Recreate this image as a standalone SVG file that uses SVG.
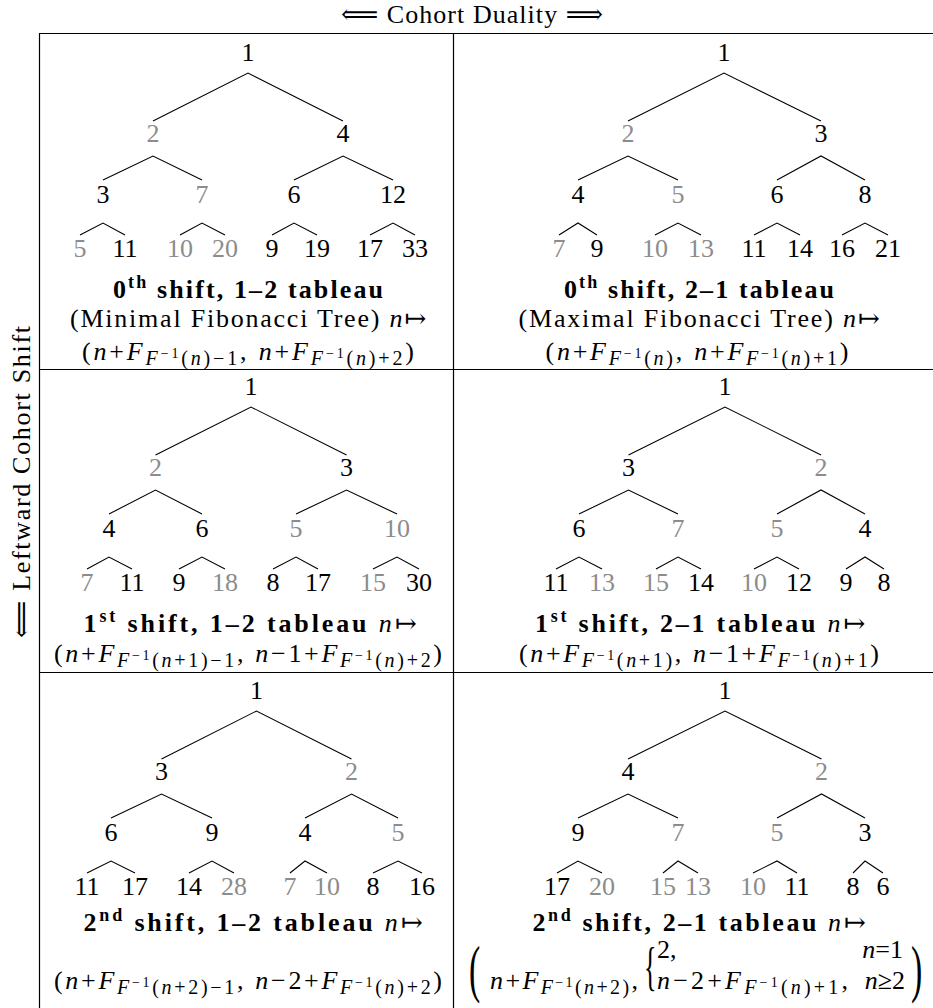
<svg xmlns="http://www.w3.org/2000/svg" width="933" height="1008" viewBox="0 0 933 1008">
<style>
text { font-family: "Liberation Serif","DejaVu Serif","DejaVu Sans",serif; font-size: 26px; fill: #000; }
.c { text-anchor: middle; }
.g { fill: #8c8c8c; }
.b { font-weight: bold; font-size: 26px; }
.i { font-style: italic; }
.n { font-weight: normal; }
.s { font-size: 20px; }
.ss { font-size: 14px; }
.sp { font-size: 18px; }
.e { fill: none; stroke: #000; stroke-width: 1.1; }
.f { fill: none; stroke: #000; stroke-width: 1.2; }
</style>
<g id="frame">
<path class="f" d="M39 33.5 H933 M39 369.5 H933 M39 672.5 H933 M39.5 33 V1008 M453.5 33 V1008"/>
</g>
<g id="labels">
<text class="c" x="472" y="23" textLength="262" lengthAdjust="spacing">⟸ Cohort Duality ⟹</text>
<text class="c" transform="translate(30,482) rotate(-90)" textLength="312" lengthAdjust="spacing">⟸ Leftward Cohort Shift</text>
</g>
<g id="connectors">
<path class="e" d="M153 121 L248 73 L343 121 M103 180 L153 156 L202 180 M294 180 L343 156 L393 180 M80 235 L103 223 L125 235 M180 235 L202 223 L225 235 M272 235 L294 223 L317 235 M370 235 L393 223 L415 235"/>
<path class="e" d="M628 121 L724 73 L821 121 M578 180 L628 156 L678 180 M777 180 L821 156 L865 180 M559 235 L578 223 L597 235 M655 235 L678 223 L701 235 M754 235 L777 223 L800 235 M842 235 L865 223 L888 235"/>
<path class="e" d="M155.5 455 L251 407 L346.5 455 M109 514 L155.5 490 L202 514 M296 514 L346.5 490 L397 514 M87 569 L109 557 L132 569 M179 569 L202 557 L225 569 M273 569 L296 557 L318 569 M373 569 L397 557 L419 569"/>
<path class="e" d="M628.5 455 L725 407 L821 455 M579 514 L628.5 490 L678 514 M777 514 L821 490 L865 514 M556 569 L579 557 L602 569 M656 569 L678 557 L701 569 M754 569 L777 557 L799 569 M846 569 L865 557 L884 569"/>
<path class="e" d="M161.5 759 L256.5 711 L351.5 759 M111 818 L161.5 794 L212 818 M305 818 L351.5 794 L398 818 M87 873 L111 861 L135 873 M189 873 L212 861 L234 873 M290 873 L305 861 L327 873 M373 873 L398 861 L422 873"/>
<path class="e" d="M628 759 L725 711 L821.5 759 M578 818 L628 794 L678 818 M777 818 L821.5 794 L865 818 M557 873 L578 861 L602 873 M663 873 L678 861 L698 873 M753 873 L777 861 L797 873 M853 873 L865 861 L883 873"/>
</g>
<g id="r1l-1"><text class="c" x="248" y="61">1</text></g>
<g id="r1l-2"><text class="c g" x="153" y="142">2</text></g>
<g id="r1l-4"><text class="c" x="343" y="142">4</text></g>
<g id="r1l-3"><text class="c" x="103" y="203">3</text></g>
<g id="r1l-7"><text class="c g" x="202" y="203">7</text></g>
<g id="r1l-6"><text class="c" x="294" y="203">6</text></g>
<g id="r1l-12"><text class="c" x="393" y="203">12</text></g>
<g id="r1l-5"><text class="c g" x="80" y="257">5</text></g>
<g id="r1l-11"><text class="c" x="125" y="257">11</text></g>
<g id="r1l-10"><text class="c g" x="180" y="257">10</text></g>
<g id="r1l-20"><text class="c g" x="225" y="257">20</text></g>
<g id="r1l-9"><text class="c" x="272" y="257">9</text></g>
<g id="r1l-19"><text class="c" x="317" y="257">19</text></g>
<g id="r1l-17"><text class="c" x="370" y="257">17</text></g>
<g id="r1l-33"><text class="c" x="415" y="257">33</text></g>
<g id="r1l-caption">
<text class="c b" x="248" y="298" textLength="270" lengthAdjust="spacing">0<tspan class="sp" dy="-10">th</tspan><tspan dy="10"> shift, 1–2 tableau</tspan></text>
<text class="c" x="248" y="327" textLength="356" lengthAdjust="spacing">(Minimal Fibonacci Tree) <tspan class="i">n</tspan>↦</text>
<text class="c" x="248" y="360" textLength="332" lengthAdjust="spacing">(<tspan class="i">n</tspan>+<tspan class="i">F</tspan><tspan class="i s" dy="5">F</tspan><tspan class="ss" dy="-7">−1</tspan><tspan class="s" dy="7">(<tspan class="i">n</tspan>)−1</tspan><tspan dy="-5">, <tspan class="i">n</tspan>+<tspan class="i">F</tspan></tspan><tspan class="i s" dy="5">F</tspan><tspan class="ss" dy="-7">−1</tspan><tspan class="s" dy="7">(<tspan class="i">n</tspan>)+2</tspan><tspan dy="-5">)</tspan></text>
</g>
<g id="r1r-1"><text class="c" x="724" y="61">1</text></g>
<g id="r1r-2"><text class="c g" x="628" y="142">2</text></g>
<g id="r1r-3"><text class="c" x="821" y="142">3</text></g>
<g id="r1r-4"><text class="c" x="578" y="203">4</text></g>
<g id="r1r-5"><text class="c g" x="678" y="203">5</text></g>
<g id="r1r-6"><text class="c" x="777" y="203">6</text></g>
<g id="r1r-8"><text class="c" x="865" y="203">8</text></g>
<g id="r1r-7"><text class="c g" x="559" y="257">7</text></g>
<g id="r1r-9"><text class="c" x="597" y="257">9</text></g>
<g id="r1r-10"><text class="c g" x="655" y="257">10</text></g>
<g id="r1r-13"><text class="c g" x="701" y="257">13</text></g>
<g id="r1r-11"><text class="c" x="754" y="257">11</text></g>
<g id="r1r-14"><text class="c" x="800" y="257">14</text></g>
<g id="r1r-16"><text class="c" x="842" y="257">16</text></g>
<g id="r1r-21"><text class="c" x="888" y="257">21</text></g>
<g id="r1r-caption">
<text class="c b" x="699" y="298" textLength="270" lengthAdjust="spacing">0<tspan class="sp" dy="-10">th</tspan><tspan dy="10"> shift, 2–1 tableau</tspan></text>
<text class="c" x="699" y="327" textLength="361" lengthAdjust="spacing">(Maximal Fibonacci Tree) <tspan class="i">n</tspan>↦</text>
<text class="c" x="697" y="360" textLength="303" lengthAdjust="spacing">(<tspan class="i">n</tspan>+<tspan class="i">F</tspan><tspan class="i s" dy="5">F</tspan><tspan class="ss" dy="-7">−1</tspan><tspan class="s" dy="7">(<tspan class="i">n</tspan>)</tspan><tspan dy="-5">, <tspan class="i">n</tspan>+<tspan class="i">F</tspan></tspan><tspan class="i s" dy="5">F</tspan><tspan class="ss" dy="-7">−1</tspan><tspan class="s" dy="7">(<tspan class="i">n</tspan>)+1</tspan><tspan dy="-5">)</tspan></text>
</g>
<g id="r2l-1"><text class="c" x="251" y="395">1</text></g>
<g id="r2l-2"><text class="c g" x="155.5" y="476">2</text></g>
<g id="r2l-3"><text class="c" x="346.5" y="476">3</text></g>
<g id="r2l-4"><text class="c" x="109" y="537">4</text></g>
<g id="r2l-6"><text class="c" x="202" y="537">6</text></g>
<g id="r2l-5"><text class="c g" x="296" y="537">5</text></g>
<g id="r2l-10"><text class="c g" x="397" y="537">10</text></g>
<g id="r2l-7"><text class="c g" x="87" y="591">7</text></g>
<g id="r2l-11"><text class="c" x="132" y="591">11</text></g>
<g id="r2l-9"><text class="c" x="179" y="591">9</text></g>
<g id="r2l-18"><text class="c g" x="225" y="591">18</text></g>
<g id="r2l-8"><text class="c" x="273" y="591">8</text></g>
<g id="r2l-17"><text class="c" x="318" y="591">17</text></g>
<g id="r2l-15"><text class="c g" x="373" y="591">15</text></g>
<g id="r2l-30"><text class="c" x="419" y="591">30</text></g>
<g id="r2l-caption">
<text class="c b" x="250" y="632" textLength="333" lengthAdjust="spacing">1<tspan class="sp" dy="-10">st</tspan><tspan dy="10"> shift, 1–2 tableau </tspan><tspan class="i n">n</tspan><tspan class="n">↦</tspan></text>
<text class="c" x="248" y="662" textLength="388" lengthAdjust="spacing">(<tspan class="i">n</tspan>+<tspan class="i">F</tspan><tspan class="i s" dy="5">F</tspan><tspan class="ss" dy="-7">−1</tspan><tspan class="s" dy="7">(<tspan class="i">n</tspan>+1)−1</tspan><tspan dy="-5">, <tspan class="i">n</tspan>−1+<tspan class="i">F</tspan></tspan><tspan class="i s" dy="5">F</tspan><tspan class="ss" dy="-7">−1</tspan><tspan class="s" dy="7">(<tspan class="i">n</tspan>)+2</tspan><tspan dy="-5">)</tspan></text>
</g>
<g id="r2r-1"><text class="c" x="725" y="395">1</text></g>
<g id="r2r-3"><text class="c" x="628.5" y="476">3</text></g>
<g id="r2r-2"><text class="c g" x="821" y="476">2</text></g>
<g id="r2r-6"><text class="c" x="579" y="537">6</text></g>
<g id="r2r-7"><text class="c g" x="678" y="537">7</text></g>
<g id="r2r-5"><text class="c g" x="777" y="537">5</text></g>
<g id="r2r-4"><text class="c" x="865" y="537">4</text></g>
<g id="r2r-11"><text class="c" x="556" y="591">11</text></g>
<g id="r2r-13"><text class="c g" x="602" y="591">13</text></g>
<g id="r2r-15"><text class="c g" x="656" y="591">15</text></g>
<g id="r2r-14"><text class="c" x="701" y="591">14</text></g>
<g id="r2r-10"><text class="c g" x="754" y="591">10</text></g>
<g id="r2r-12"><text class="c" x="799" y="591">12</text></g>
<g id="r2r-9"><text class="c" x="846" y="591">9</text></g>
<g id="r2r-8"><text class="c" x="884" y="591">8</text></g>
<g id="r2r-caption">
<text class="c b" x="700" y="632" textLength="330" lengthAdjust="spacing">1<tspan class="sp" dy="-10">st</tspan><tspan dy="10"> shift, 2–1 tableau </tspan><tspan class="i n">n</tspan><tspan class="n">↦</tspan></text>
<text class="c" x="699" y="662" textLength="360" lengthAdjust="spacing">(<tspan class="i">n</tspan>+<tspan class="i">F</tspan><tspan class="i s" dy="5">F</tspan><tspan class="ss" dy="-7">−1</tspan><tspan class="s" dy="7">(<tspan class="i">n</tspan>+1)</tspan><tspan dy="-5">, <tspan class="i">n</tspan>−1+<tspan class="i">F</tspan></tspan><tspan class="i s" dy="5">F</tspan><tspan class="ss" dy="-7">−1</tspan><tspan class="s" dy="7">(<tspan class="i">n</tspan>)+1</tspan><tspan dy="-5">)</tspan></text>
</g>
<g id="r3l-1"><text class="c" x="256.5" y="699">1</text></g>
<g id="r3l-3"><text class="c" x="161.5" y="780">3</text></g>
<g id="r3l-2"><text class="c g" x="351.5" y="780">2</text></g>
<g id="r3l-6"><text class="c" x="111" y="841">6</text></g>
<g id="r3l-9"><text class="c" x="212" y="841">9</text></g>
<g id="r3l-4"><text class="c" x="305" y="841">4</text></g>
<g id="r3l-5"><text class="c g" x="398" y="841">5</text></g>
<g id="r3l-11"><text class="c" x="87" y="895">11</text></g>
<g id="r3l-17"><text class="c" x="135" y="895">17</text></g>
<g id="r3l-14"><text class="c" x="189" y="895">14</text></g>
<g id="r3l-28"><text class="c g" x="234" y="895">28</text></g>
<g id="r3l-7"><text class="c g" x="290" y="895">7</text></g>
<g id="r3l-10"><text class="c g" x="327" y="895">10</text></g>
<g id="r3l-8"><text class="c" x="373" y="895">8</text></g>
<g id="r3l-16"><text class="c" x="422" y="895">16</text></g>
<g id="r3l-caption">
<text class="c b" x="253" y="931" textLength="339" lengthAdjust="spacing">2<tspan class="sp" dy="-10">nd</tspan><tspan dy="10"> shift, 1–2 tableau </tspan><tspan class="i n">n</tspan><tspan class="n">↦</tspan></text>
<text class="c" x="248" y="989" textLength="388" lengthAdjust="spacing">(<tspan class="i">n</tspan>+<tspan class="i">F</tspan><tspan class="i s" dy="5">F</tspan><tspan class="ss" dy="-7">−1</tspan><tspan class="s" dy="7">(<tspan class="i">n</tspan>+2)−1</tspan><tspan dy="-5">, <tspan class="i">n</tspan>−2+<tspan class="i">F</tspan></tspan><tspan class="i s" dy="5">F</tspan><tspan class="ss" dy="-7">−1</tspan><tspan class="s" dy="7">(<tspan class="i">n</tspan>)+2</tspan><tspan dy="-5">)</tspan></text>
</g>
<g id="r3r-1"><text class="c" x="725" y="699">1</text></g>
<g id="r3r-4"><text class="c" x="628" y="780">4</text></g>
<g id="r3r-2"><text class="c g" x="821.5" y="780">2</text></g>
<g id="r3r-9"><text class="c" x="578" y="841">9</text></g>
<g id="r3r-7"><text class="c g" x="678" y="841">7</text></g>
<g id="r3r-5"><text class="c g" x="777" y="841">5</text></g>
<g id="r3r-3"><text class="c" x="865" y="841">3</text></g>
<g id="r3r-17"><text class="c" x="557" y="895">17</text></g>
<g id="r3r-20"><text class="c g" x="602" y="895">20</text></g>
<g id="r3r-15"><text class="c g" x="663" y="895">15</text></g>
<g id="r3r-13"><text class="c g" x="698" y="895">13</text></g>
<g id="r3r-10"><text class="c g" x="753" y="895">10</text></g>
<g id="r3r-11"><text class="c" x="797" y="895">11</text></g>
<g id="r3r-8"><text class="c" x="853" y="895">8</text></g>
<g id="r3r-6"><text class="c" x="883" y="895">6</text></g>
<g id="r3r-caption">
<text class="c b" x="699" y="931" textLength="333" lengthAdjust="spacing">2<tspan class="sp" dy="-10">nd</tspan><tspan dy="10"> shift, 2–1 tableau </tspan><tspan class="i n">n</tspan><tspan class="n">↦</tspan></text>
<text transform="translate(469,990) scale(1.3,2.4)">(</text>
<text x="490" y="989" textLength="148" lengthAdjust="spacing"><tspan class="i">n</tspan>+<tspan class="i">F</tspan><tspan class="i s" dy="5">F</tspan><tspan class="ss" dy="-7">−1</tspan><tspan class="s" dy="7">(<tspan class="i">n</tspan>+2)</tspan><tspan dy="-5">,</tspan></text>
<text transform="translate(644,984) scale(1,2.05)">{</text>
<text x="657" y="958">2,</text>
<text x="903" y="958" text-anchor="end"><tspan class="i">n</tspan>=1</text>
<text x="657" y="989" textLength="191" lengthAdjust="spacing"><tspan class="i">n</tspan>−2+<tspan class="i">F</tspan><tspan class="i s" dy="5">F</tspan><tspan class="ss" dy="-7">−1</tspan><tspan class="s" dy="7">(<tspan class="i">n</tspan>)+1</tspan><tspan dy="-5">,</tspan></text>
<text x="905" y="989" text-anchor="end"><tspan class="i">n</tspan>≥2</text>
<text transform="translate(911,990) scale(1.3,2.4)">)</text>
</g>
</svg>
